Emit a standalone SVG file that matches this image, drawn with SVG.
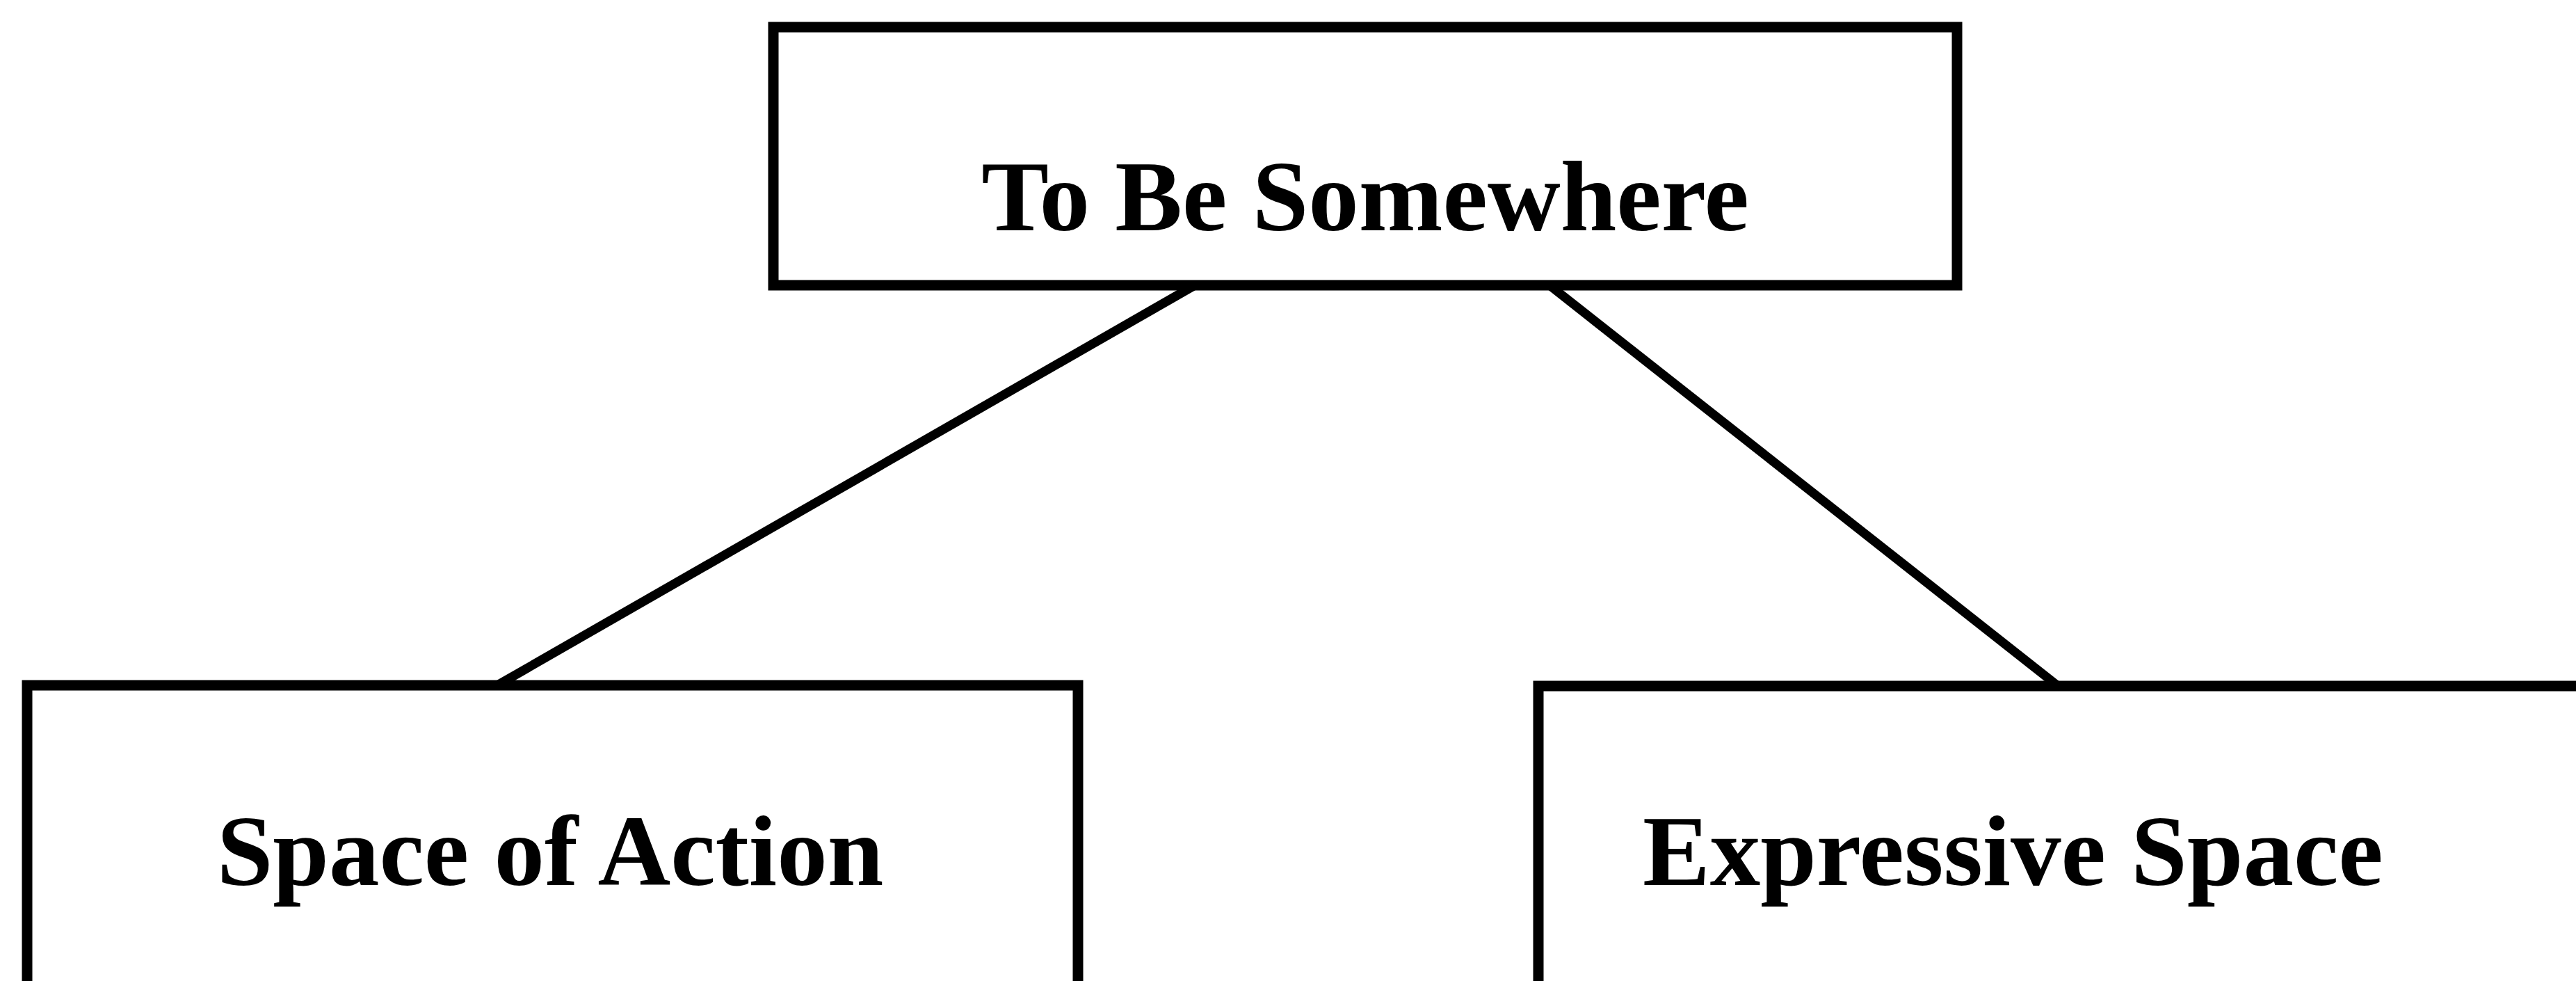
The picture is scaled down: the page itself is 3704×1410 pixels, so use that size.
<svg xmlns="http://www.w3.org/2000/svg" width="3704" height="1410" viewBox="0 0 3704 1410">
<style>
.box{fill:#fff;stroke:#000;stroke-width:15}
.lbl{font-family:"Liberation Serif","Times New Roman",serif;font-weight:bold;font-size:145px;fill:#000}
.conn{stroke:#000;stroke-width:13;fill:none}
</style>
<rect width="3704" height="1410" fill="#fff"/>
<g id="connectors">
<line class="conn" x1="1718" y1="410" x2="715" y2="985"/>
<line class="conn" x1="2228" y1="410" x2="2958" y2="985"/>
</g>
<g id="node-top">
<rect class="box" x="1112" y="39" width="1702" height="371"/>
<text class="lbl" x="1963" y="331" text-anchor="middle">To Be Somewhere</text>
</g>
<g id="node-left">
<rect class="box" x="39" y="985" width="1511" height="460"/>
<text class="lbl" x="791" y="1272" text-anchor="middle">Space of Action</text>
</g>
<g id="node-right">
<rect class="box" x="2212" y="986" width="1540" height="460"/>
<text class="lbl" x="2362" y="1272">Expressive Space</text>
</g>
</svg>
